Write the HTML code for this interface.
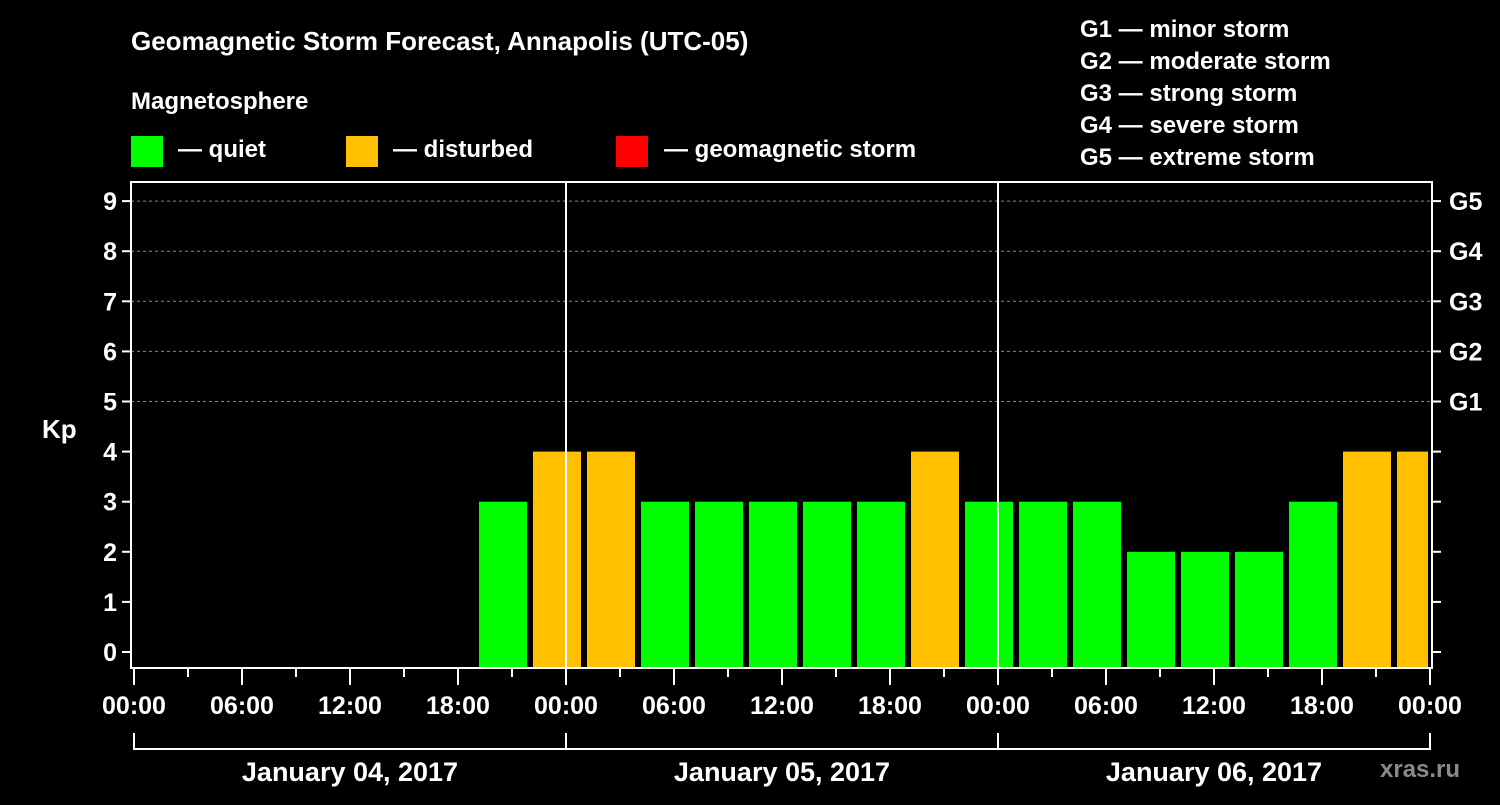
<!DOCTYPE html>
<html><head><meta charset="utf-8"><style>
body{margin:0;background:#000;width:1500px;height:800px;overflow:hidden;font-family:"Liberation Sans",Arial,sans-serif}
svg text{font-family:"Liberation Sans",Arial,sans-serif;font-weight:bold;fill:#fff}
</style></head><body>
<svg id="chart" width="1500" height="800">
<rect width="1500" height="800" fill="#000"/>
<text x="131" y="50" font-size="26">Geomagnetic Storm Forecast, Annapolis (UTC-05)</text>
<text x="131" y="109" font-size="24">Magnetosphere</text>
<g><rect x="131" y="136" width="32" height="31" fill="#00ff00"/><text x="178" y="157" font-size="24">— quiet</text></g>
<g><rect x="346" y="136" width="32" height="31" fill="#ffc000"/><text x="393" y="157" font-size="24">— disturbed</text></g>
<g><rect x="616" y="136" width="32" height="31" fill="#ff0000"/><text x="664" y="157" font-size="24">— geomagnetic storm</text></g>
<g font-size="24">
<text x="1080" y="37">G1 — minor storm</text>
<text x="1080" y="69">G2 — moderate storm</text>
<text x="1080" y="101">G3 — strong storm</text>
<text x="1080" y="133">G4 — severe storm</text>
<text x="1080" y="165">G5 — extreme storm</text>
</g>
<text x="42" y="438" font-size="26">Kp</text>
<text x="1380" y="777" font-size="24" fill="#888" style="fill:#8a8a8a">xras.ru</text>
<g id="plot"></g>
</svg>
<script>
const kpValues=[3,4,4,3,3,3,3,3,4,3,3,3,2,2,2,3,4,4];
const startHour=19; // first slot start, hours from Jan 04 00:00 local
const yTicks=[0,1,2,3,4,5,6,7,8,9];
const gLabels=["G1","G2","G3","G4","G5"];
const xTickLabels=["00:00","06:00","12:00","18:00","00:00","06:00","12:00","18:00","00:00","06:00","12:00","18:00","00:00"];
const dayLabels=["January 04, 2017","January 05, 2017","January 06, 2017"];
const X0=134,PXH=18,Y0=652,PXK=50.1,LEFT=131,RIGHT=1432,TOP=182,BOTTOM=668;
const xs=h=>X0+h*PXH, ys=k=>Y0-k*PXK;
const g=document.getElementById('plot'),NS='http://www.w3.org/2000/svg';
function mk(t,a){const e=document.createElementNS(NS,t);for(const k in a)e.setAttribute(k,a[k]);g.appendChild(e);return e;}
// gridlines
for(let k=5;k<=9;k++){const e=mk('line',{x1:LEFT,x2:RIGHT,y1:ys(k),y2:ys(k),stroke:'#888','stroke-dasharray':'3,3','stroke-width':1});

}
// bars
kpValues.forEach((v,i)=>{const h0=startHour+i*3;const x1=xs(h0)+3;let x2=xs(h0+3)-3;x2=Math.min(x2,RIGHT-4);
const c=v>=5?'#ff0000':(v>=4?'#ffc000':'#00ff00');
const e=mk('rect',{x:x1,y:ys(v),width:x2-x1,height:BOTTOM-ys(v),fill:c});

});
// day separators
[1,2].forEach(d=>{const e=mk('line',{x1:xs(24*d),x2:xs(24*d),y1:TOP,y2:BOTTOM,stroke:'#fff','stroke-width':2});

});
// axes frame
const fr=mk('rect',{x:LEFT,y:TOP,width:RIGHT-LEFT,height:BOTTOM-TOP,fill:'none',stroke:'#fff','stroke-width':2});


// y ticks
yTicks.forEach(k=>{mk('line',{x1:LEFT-9,x2:LEFT,y1:ys(k),y2:ys(k),stroke:'#fff','stroke-width':2});
mk('line',{x1:RIGHT,x2:RIGHT+9,y1:ys(k),y2:ys(k),stroke:'#fff','stroke-width':2});
const t=mk('text',{x:LEFT-14,y:ys(k)+9,'font-size':25,'text-anchor':'end'});t.textContent=k;

});
gLabels.forEach((s,i)=>{const t=mk('text',{x:1449,y:ys(5+i)+9,'font-size':25});t.textContent=s;

});
// x ticks
for(let h=0;h<=72;h+=3){const major=h%6===0;mk('line',{x1:xs(h),x2:xs(h),y1:BOTTOM,y2:BOTTOM+(major?17:9),stroke:'#fff','stroke-width':2});}
xTickLabels.forEach((s,i)=>{const t=mk('text',{x:xs(i*6),y:714,'font-size':25,'text-anchor':'middle'});t.textContent=s;

});
// date brackets
mk('line',{x1:xs(0),x2:xs(72),y1:749,y2:749,stroke:'#fff','stroke-width':2});
for(let d=0;d<=3;d++)mk('line',{x1:xs(24*d),x2:xs(24*d),y1:733,y2:750,stroke:'#fff','stroke-width':2});
dayLabels.forEach((s,i)=>{const t=mk('text',{x:xs(24*i+12),y:781,'font-size':27,'text-anchor':'middle'});t.textContent=s;

});
</script>
</body></html>
